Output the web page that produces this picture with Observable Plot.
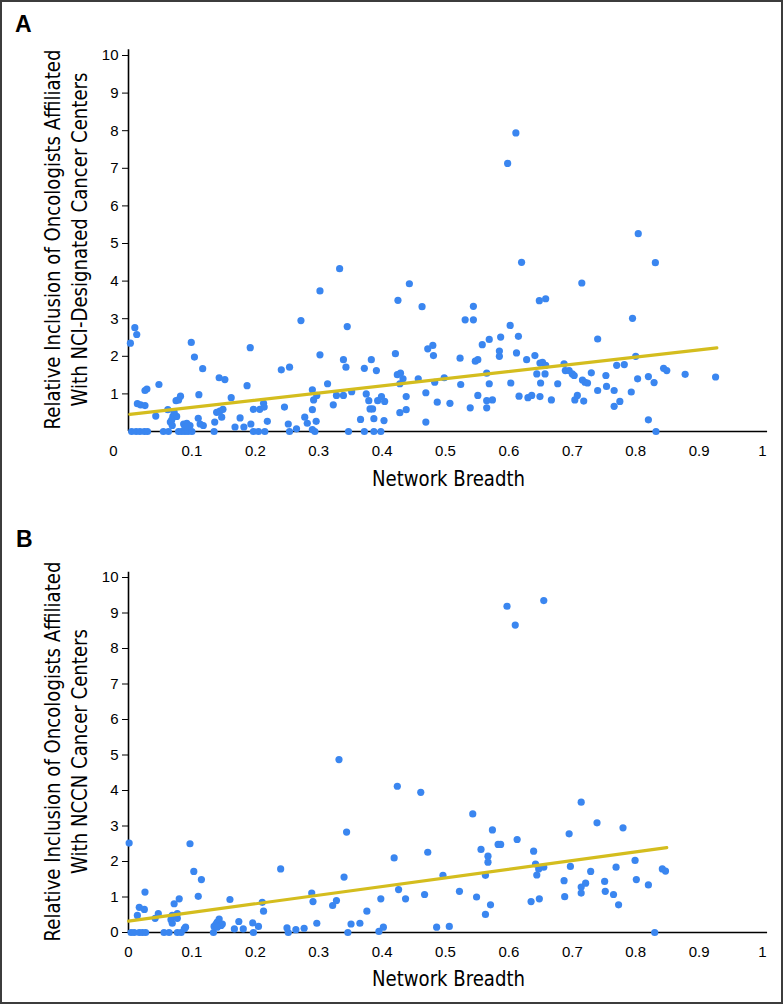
<!DOCTYPE html>
<html><head><meta charset="utf-8">
<script src="https://cdn.jsdelivr.net/npm/d3@7"></script>
<script src="https://cdn.jsdelivr.net/npm/@observablehq/plot@0.6"></script>
<style>
html,body{margin:0;padding:0;background:#fff;}
#wrap{position:relative;width:783px;height:1004px;overflow:hidden;background:#fff;}
#frame{position:absolute;left:0;top:0;width:783px;height:1004px;box-sizing:border-box;border:2px solid #3c3c3c;pointer-events:none;}
.panel{position:absolute;left:0;}
.letter{position:absolute;font-family:"Liberation Sans",Arial,sans-serif;font-weight:bold;font-size:23px;line-height:23px;color:#000;}
</style></head>
<body>
<div id="wrap">
  <div id="pa" class="panel" style="top:0px"></div>
  <div id="pb" class="panel" style="top:500px"></div>
  <div class="letter" style="left:15px;top:13px">A</div>
  <div class="letter" style="left:16px;top:528px">B</div>
  <div id="frame"></div>
</div>
<script>
// ---------- Data ----------
const xTicks = [0, 0.1, 0.2, 0.3, 0.4, 0.5, 0.6, 0.7, 0.8, 0.9, 1];
const yTicksA = [1, 2, 3, 4, 5, 6, 7, 8, 9, 10];
const yTicksB = [0, 1, 2, 3, 4, 5, 6, 7, 8, 9, 10];
const xLabel = "Network Breadth";
const yTitleA = ["Relative Inclusion of Oncologists Affiliated", "With NCI-Designated Cancer Centers"];
const yTitleB = ["Relative Inclusion of Oncologists Affiliated", "With NCCN Cancer Centers"];

// Panel A: network breadth vs relative inclusion (NCI-designated)
const aX = [0.003,0.010,0.013,0.014,0.019,0.026,0.026,0.029,0.005,0.012,0.018,0.025,0.030,
0.043,0.048,0.055,0.063,0.062,0.066,0.070,0.076,0.072,0.068,0.069,0.075,0.079,0.082,
0.079,0.084,0.089,0.094,0.100,0.087,0.092,0.097,0.089,0.099,0.104,0.111,0.117,0.110,0.118,0.113,
0.136,0.139,0.144,0.135,0.147,0.149,0.143,0.152,0.162,0.168,0.176,0.182,0.187,0.192,
0.197,0.207,0.213,0.214,0.193,0.197,0.205,0.215,0.219,0.241,0.254,0.246,0.252,0.254,0.265,
0.272,0.278,0.282,0.290,0.292,0.297,0.290,0.296,0.294,0.290,0.302,0.302,0.314,0.323,0.328,0.339,
0.333,0.339,0.343,0.345,0.347,0.352,0.366,0.372,0.372,0.375,0.379,0.383,0.381,0.385,0.387,0.387,
0.391,0.393,0.399,0.404,0.403,0.398,0.421,0.425,0.424,0.429,0.433,0.428,0.428,0.438,0.438,0.443,
0.457,0.463,0.469,0.469,0.472,0.480,0.481,0.483,0.487,0.498,0.507,
0.524,0.523,0.531,0.544,0.544,0.539,0.547,0.551,0.551,0.558,0.565,0.569,0.565,0.565,0.574,0.569,
0.585,0.585,0.587,0.602,0.603,0.612,0.615,0.616,0.628,0.630,0.636,0.649,0.641,0.648,0.658,0.649,
0.653,0.658,0.644,0.657,0.650,0.667,0.677,0.687,0.689,0.695,0.700,0.703,0.704,0.708,0.718,0.716,
0.720,0.724,0.730,0.740,0.740,0.753,0.754,0.766,0.766,0.775,0.770,0.782,0.793,0.795,0.800,0.803,
0.820,0.820,0.829,0.832,0.844,0.849,0.878,0.926,
0.611,0.598,0.804,0.620,0.831,0.715];
const aY = [2.35,2.76,2.58,0.74,0.71,0.69,1.09,1.13,0,0,0,0,0,
0.41,1.25,0,0,0.58,0.25,0.40,0.40,0.51,0.30,0.16,0.82,0.84,0.94,
0,0,0,0,0,0.20,0.22,0.16,0.12,2.37,1.98,0.98,1.67,0.35,0.16,0.20,
0.25,0.51,0.54,0,0.38,0.59,1.43,1.38,0.90,0.12,0.36,0.12,1.22,2.23,
0.59,0.59,0.75,0.65,0.20,0,0,0,0.27,1.64,1.71,0.65,0.20,0,0.07,
2.95,0.38,0.22,1.11,0.84,0.96,0.58,0.27,0,0.05,3.74,2.04,1.27,0.71,0.96,0.96,
4.33,1.91,1.71,2.79,0,1.06,0.32,0,1.68,1.00,0.82,1.91,0.60,0.60,0.34,0,
1.62,0.82,0.93,0.80,0.29,0,2.07,3.49,1.51,1.55,1.40,1.27,0.50,0.58,0.93,3.93,
1.40,3.32,0.25,1.03,2.20,2.29,2.02,1.31,0.78,1.43,0.75,
1.25,1.95,2.97,3.33,2.97,0.63,1.87,1.91,0.96,2.31,1.55,1.27,0.82,0.63,0.84,2.45,
2.14,2.00,2.51,2.82,1.29,2.09,2.53,0.94,1.91,0.90,0.96,0.93,2.02,3.48,3.53,1.82,
1.84,1.76,1.53,1.53,1.29,0.84,1.27,1.80,1.62,1.62,1.53,1.49,0.84,0.96,0.81,1.37,
1.31,1.29,1.56,2.46,1.09,1.49,1.20,1.09,0.67,0.80,1.76,1.78,1.05,3.01,2.00,1.40,
1.46,0.31,1.30,0,1.68,1.62,1.52,1.45,
7.94,7.13,5.26,4.50,4.49,3.95];

// Panel B: network breadth vs relative inclusion (NCCN)
const bX = [0.001,0.014,0.017,0.025,0.026,0.004,0.009,0.017,0.022,0.027,
0.042,0.047,0.056,0.064,0.067,0.069,0.077,0.072,0.080,0.077,0.069,0.077,0.083,0.088,0.090,
0.097,0.103,0.110,0.115,0.134,0.135,0.138,0.140,0.143,0.146,0.148,0.140,
0.160,0.167,0.174,0.181,0.196,0.197,0.205,0.211,0.213,
0.240,0.250,0.252,0.264,0.277,0.289,0.291,0.297,
0.322,0.328,0.332,0.340,0.344,0.346,0.351,0.365,0.376,0.395,0.402,0.398,
0.419,0.424,0.426,0.437,0.461,0.467,0.472,0.486,0.496,0.506,
0.522,0.543,0.549,0.556,0.563,0.567,0.567,0.563,0.571,0.574,0.583,0.587,0.597,0.610,0.655,
0.613,0.635,0.648,0.639,0.642,0.647,0.644,0.655,0.687,0.688,0.695,0.697,0.714,0.714,0.721,
0.714,0.729,0.739,0.751,0.752,0.765,0.773,0.769,0.780,0.799,0.801,0.820,0.830,0.842,0.847];
const bY = [2.52,0.48,0.71,0.65,1.14,0,0,0,0,0,
0.40,0.53,0,0,0.36,0.26,0.40,0.81,0.95,0.53,0.48,0,0,0.10,0.15,
2.50,1.72,1.02,1.49,0,0.17,0.24,0.29,0.38,0.20,0.24,0.15,
0.93,0.10,0.31,0.10,0.27,0,0.17,0.85,0.60,
1.79,0.13,0,0.08,0.12,1.11,0.87,0.26,
0.76,0.90,4.87,1.56,2.83,0,0.24,0.26,0.60,0.03,0.15,0.95,
2.10,4.12,1.21,0.95,3.95,1.07,2.26,0.15,1.61,0.17,
1.16,3.34,1.00,2.34,1.61,2.15,1.98,0.51,0.78,2.89,2.48,2.48,9.19,8.66,9.35,
2.62,0.87,0.95,2.29,1.93,1.79,1.62,1.84,1.46,1.01,2.78,1.86,1.28,1.11,1.39,
3.67,1.72,3.09,1.44,1.16,1.07,0.78,1.84,2.95,2.03,1.49,1.34,0,1.79,1.73];

// Fitted regression lines
const fitA = {xStart: 0.002, xEnd: 0.928, intercept: 0.45, slope: 1.91};
const fitB = {xStart: 0.0, xEnd: 0.849, intercept: 0.32, slope: 2.44};

// ---------- Styling ----------
const DOT = "#3a86f0";
const FIT = "#d4bd1e";
const TICKFONT = "'Liberation Sans', Arial, Helvetica, sans-serif";
const TITLEFONT = "'Liberation Sans Narrow', 'Arial Narrow', 'DejaVu Sans Condensed', sans-serif";
const TITLESIZE = 22;
const SQUEEZE = 0.915;
const fmt = d => String(+d.toFixed(1));

function panel({xs, ys, fit, yTicks, titles, height, marginTop, marginBottom, shiftZero, titleDy, labelDy}) {
  const pts = xs.map((x, i) => ({x, y: ys[i]}));
  const line = [fit.xStart, fit.xEnd].map(x => ({x, y: fit.intercept + fit.slope * x}));
  const ticks = shiftZero ? xTicks.filter(t => t !== 0) : xTicks;
  const tstyle = {fontSize: TITLESIZE, fontFamily: TITLEFONT, fill: "#000", className: "ttl"};
  const marks = [
    Plot.axisY({ticks: yTicks, tickSize: 6, tickPadding: 4, label: null, tickFormat: d => String(d)}),
    Plot.axisX({ticks, tickSize: 0, tickPadding: 14, label: null, tickFormat: fmt}),
    Plot.ruleX([0], {y1: 0, y2: 10.15, stroke: "#000", strokeWidth: 1.6}),
    Plot.ruleY([0], {x1: 0, x2: 1.008, stroke: "#000", strokeWidth: 1.6}),
    Plot.dot(pts, {x: "x", y: "y", r: 3.6, fill: DOT, stroke: "none"}),
    Plot.line(line, {x: "x", y: "y", stroke: FIT, strokeWidth: 3.2}),
    Plot.text([titles[0]], {frameAnchor: "left", textAnchor: "middle", lineAnchor: "middle", rotate: -90, dx: -76, dy: titleDy, ...tstyle}),
    Plot.text([titles[1]], {frameAnchor: "left", textAnchor: "middle", lineAnchor: "middle", rotate: -90, dx: -49, dy: titleDy, ...tstyle}),
    Plot.text([xLabel], {frameAnchor: "bottom", textAnchor: "middle", lineAnchor: "middle", dx: 3, dy: labelDy, ...tstyle})
  ];
  if (shiftZero) {
    marks.push(Plot.text([0], {x: d => d, frameAnchor: "bottom", textAnchor: "middle", lineAnchor: "top", dy: 14, dx: -15, text: d => fmt(d), fontSize: 15, fontFamily: TICKFONT, fill: "#000"}));
  }
  return Plot.plot({
    width: 783, height, marginLeft: 128, marginRight: 21, marginTop, marginBottom,
    x: {domain: [0, 1]}, y: {domain: [0, 10]},
    style: {fontFamily: TICKFONT, fontSize: "15px", color: "#000", background: "transparent", overflow: "visible"},
    marks
  });
}

document.getElementById("pa").append(panel({
  xs: aX, ys: aY, fit: fitA, yTicks: yTicksA, titles: yTitleA,
  height: 500, marginTop: 55, marginBottom: 69, shiftZero: true, titleDy: -4, labelDy: 47
}));
document.getElementById("pb").append(panel({
  xs: bX, ys: bY, fit: fitB, yTicks: yTicksB, titles: yTitleB,
  height: 504, marginTop: 77, marginBottom: 72, shiftZero: false, titleDy: -3.5, labelDy: 46
}));

// condense the title texts slightly to match the narrow typeface of the original
document.querySelectorAll("g.ttl text").forEach(t => {
  const len = t.getComputedTextLength();
  if (len > 0) {
    t.setAttribute("textLength", (len * SQUEEZE).toFixed(1));
    t.setAttribute("lengthAdjust", "spacingAndGlyphs");
  }
});
</script>
</body></html>
